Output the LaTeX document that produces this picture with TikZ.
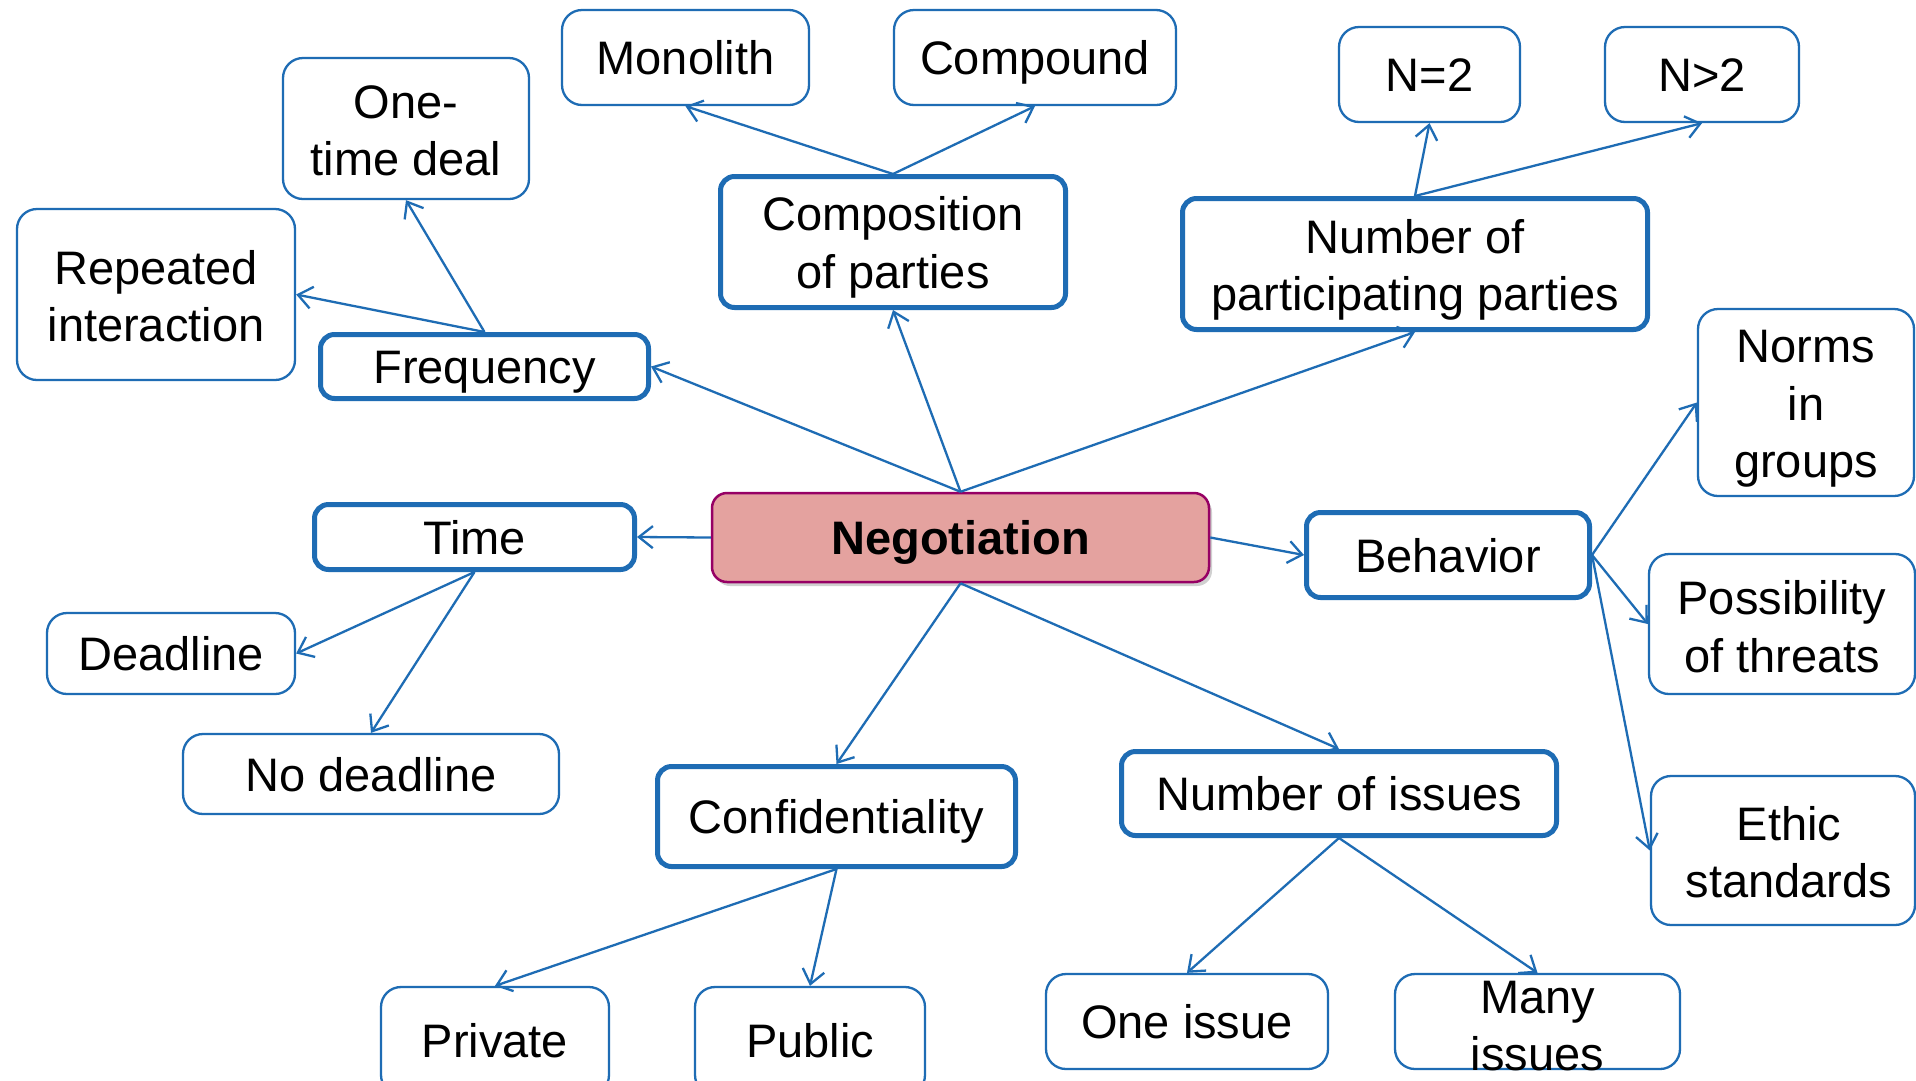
\documentclass[tikz,border=0pt]{standalone}
\usepackage{fontspec}
\setmainfont{Liberation Sans}
\usetikzlibrary{arrows.meta,shadows}
\definecolor{lineblue}{RGB}{30,108,180}
\definecolor{negfill}{RGB}{228,162,159}
\definecolor{negborder}{RGB}{150,0,100}
\begin{document}
\begin{tikzpicture}[x=1pt,y=-1pt,
 thinbox/.style={draw=lineblue, line width=2.3pt, rounded corners=20pt, inner sep=0pt, fill=white},
 thickbox/.style={draw=lineblue, line width=5pt, rounded corners=14pt, inner sep=0pt, fill=white},
 negbox/.style={draw=negborder, line width=2.5pt, rounded corners=15pt, inner sep=0pt, fill=negfill,
   drop shadow={shadow xshift=3pt, shadow yshift=-4pt, opacity=0.3, fill=black!60}},
 txt/.style={font=\fontsize{47}{57.5}\selectfont, align=center, inner sep=0pt},
 stxt/.style={font=\fontsize{47}{57.5}\selectfont, inner sep=0pt, text height=34pt, text depth=0pt},
 conn/.style={draw=lineblue, line width=2.3pt, -{Straight Barb[length=14pt,width=22pt,line width=2.3pt]}},
]
\useasboundingbox (0,0) rectangle (1916,1080);
\clip (0,0) rectangle (1916,1080);
\fill[white] (0,0) rectangle (1916,1080);

% boxes
\node[thinbox, minimum width=247pt, minimum height=95pt] (mono) at (685.5,57.5) {};
\node[thinbox, minimum width=282pt, minimum height=95pt] (compd) at (1035,57.5) {};
\node[thinbox, minimum width=181pt, minimum height=95pt] (neq) at (1429.5,74.5) {};
\node[thinbox, minimum width=194pt, minimum height=95pt] (ngt) at (1702,74.5) {};
\node[thinbox, minimum width=246pt, minimum height=141pt] (otd) at (406,128.5) {};
\node[thickbox, minimum width=345pt, minimum height=131pt] (comp) at (893,242) {};
\node[thickbox, minimum width=465pt, minimum height=131pt] (npp) at (1415,264) {};
\node[thinbox, minimum width=278pt, minimum height=171pt] (rep) at (156,294.5) {};
\node[thickbox, minimum width=328pt, minimum height=64pt] (freq) at (484.5,366.5) {};
\node[thinbox, minimum width=216pt, minimum height=187pt] (norms) at (1806,402.5) {};
\node[thickbox, minimum width=320pt, minimum height=65pt] (time) at (474.5,537) {};
\node[negbox, minimum width=497pt, minimum height=89pt] (neg) at (960.5,537.5) {};
\node[thickbox, minimum width=283pt, minimum height=85pt] (beh) at (1448,555) {};
\node[thinbox, minimum width=266pt, minimum height=140pt] (poss) at (1782,624) {};
\node[thinbox, minimum width=248pt, minimum height=81pt] (dead) at (171,653.5) {};
\node[thinbox, minimum width=376pt, minimum height=80pt] (nodead) at (371,774) {};
\node[thickbox, minimum width=358pt, minimum height=100pt] (conf) at (836.5,816.5) {};
\node[thickbox, minimum width=435pt, minimum height=84pt] (noi) at (1339,793.5) {};
\node[thinbox, minimum width=264pt, minimum height=149pt] (ethic) at (1783,850.5) {};
\node[thinbox, minimum width=228pt, minimum height=108pt] (priv) at (495,1041) {};
\node[thinbox, minimum width=230pt, minimum height=108pt] (pub) at (810,1041) {};
\node[thinbox, minimum width=282pt, minimum height=95pt] (onei) at (1187,1021.5) {};
\node[thinbox, minimum width=285pt, minimum height=95pt] (many) at (1537.5,1021.5) {};

% texts
\node[stxt] (mono-t) at (mono) {Monolith};
\node[stxt] (compd-t) at (compd) {Compound};
\node[stxt] (neq-t) at (neq) {N=2};
\node[stxt] (ngt-t) at (ngt) {N>2};
\node[txt] (otd-t) at (406,131) {One-\\time deal};
\node[txt] (comp-t) at (893,247.5) {Composition\\of parties};
\node[txt] (npp-t) at (1415,270) {Number of\\participating parties};
\node[txt] (rep-t) at (156,296) {Repeated\\interaction};
\node[stxt] (freq-t) at (freq) {Frequency};
\node[txt] (norms-t) at (1806,409) {Norms\\in\\groups};
\node[stxt] (time-t) at (time) {Time};
\node[stxt, font=\fontsize{47}{57.5}\selectfont\bfseries] (neg-t) at (neg) {Negotiation};
\node[stxt] (beh-t) at (beh) {Behavior};
\node[txt] (poss-t) at (1782,626.5) {Possibility\\of threats};
\node[stxt] (dead-t) at (dead) {Deadline};
\node[stxt] (nodead-t) at (nodead) {No deadline};
\node[stxt] (conf-t) at (conf) {Confidentiality};
\node[stxt] (noi-t) at (noi) {Number of issues};
\node[txt] (ethic-t) at (1789,852) {Ethic\\standards};
\node[stxt] (priv-t) at (495,1040) {Private};
\node[stxt] (pub-t) at (810,1040) {Public};
\node[stxt] (onei-t) at (onei) {One issue};
\node[txt] (many-t) at (1537.5,1026) {Many\\issues};

% connectors
\draw[conn] (neg.north) -- (freq.east);
\draw[conn] (neg.north) -- (comp.south);
\draw[conn] (neg.north) -- (npp.south);
\draw[conn] (neg.west) -- (time.east);
\draw[conn] (neg.east) -- (beh.west);
\draw[conn] (neg.south) -- (conf.north);
\draw[conn] (neg.south) -- (noi.north);
\draw[conn] (freq.north) -- (otd.south);
\draw[conn] (freq.north) -- (rep.east);
\draw[conn] (comp.north) -- (mono.south);
\draw[conn] (comp.north) -- (compd.south);
\draw[conn] (npp.north) -- (neq.south);
\draw[conn] (npp.north) -- (ngt.south);
\draw[conn] (time.south) -- (dead.east);
\draw[conn] (time.south) -- (nodead.north);
\draw[conn] (beh.east) -- (norms.west);
\draw[conn] (beh.east) -- (poss.west);
\draw[conn] (beh.east) -- (ethic.west);
\draw[conn] (conf.south) -- (priv.north);
\draw[conn] (conf.south) -- (pub.north);
\draw[conn] (noi.south) -- (onei.north);
\draw[conn] (noi.south) -- (many.north);
\end{tikzpicture}
\end{document}
